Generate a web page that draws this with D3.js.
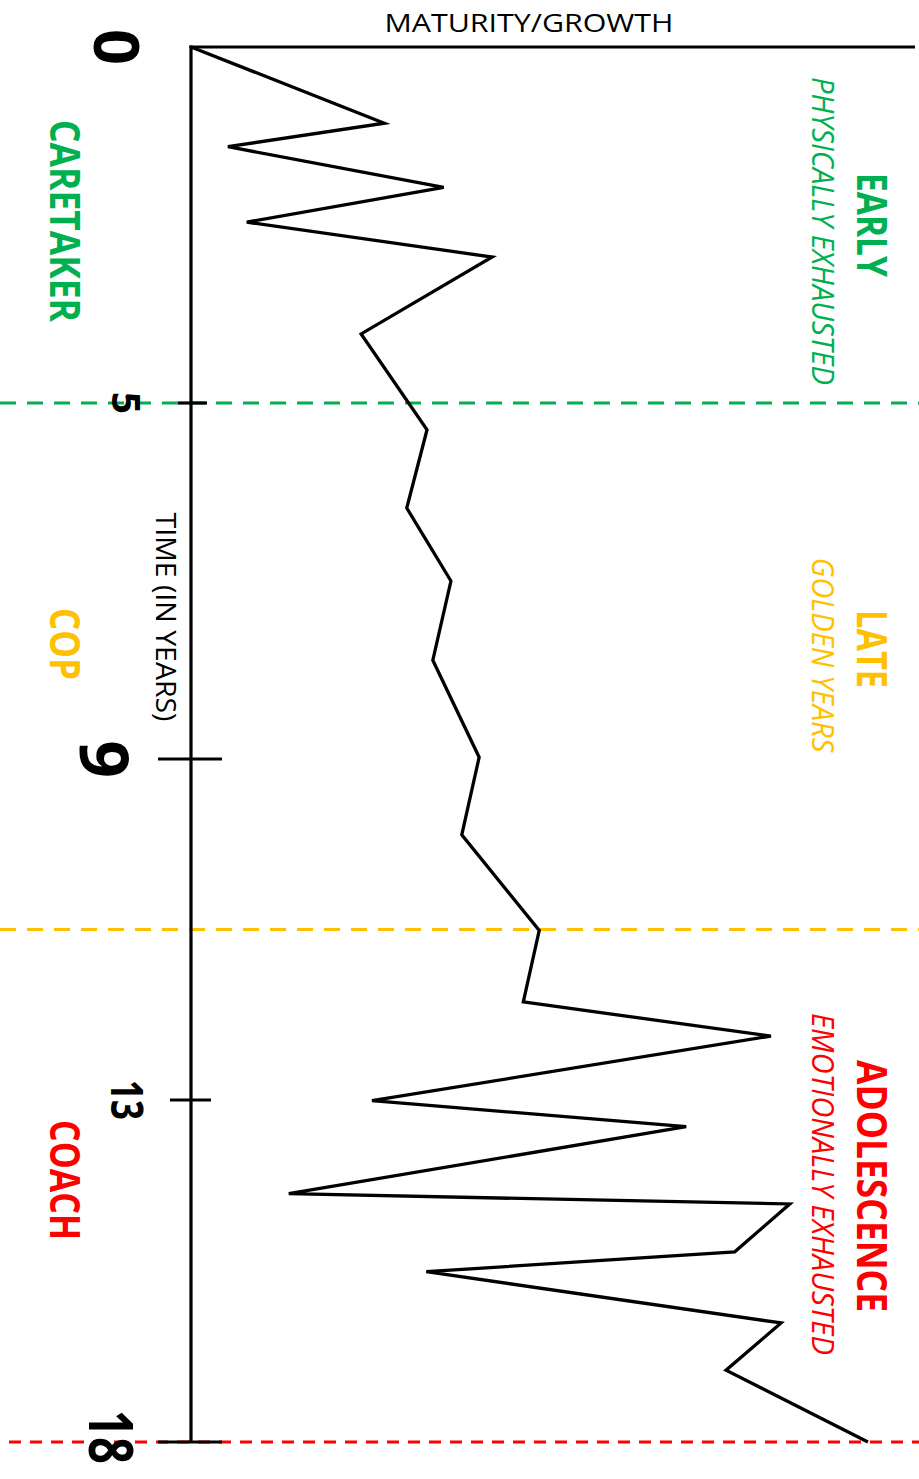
<!DOCTYPE html>
<html>
<head>
<meta charset="utf-8">
<script src="https://cdn.jsdelivr.net/npm/d3@7"></script>
<style>
  html, body { margin: 0; padding: 0; background: #ffffff; }
  svg { display: block; }
</style>
</head>
<body>
<svg id="chart" width="919" height="1479"></svg>
<script>
// ---------- DATA ----------
const years    = [0, 1.07, 1.40, 1.97, 2.46, 2.95, 4.03, 5.30, 6.18, 7.00, 7.89, 8.98, 9.89, 11.01, 11.85, 12.25, 13.01, 13.39, 14.37, 14.52, 15.22, 15.51, 16.26, 16.95, 18];
const maturity = [0, 26.7, 5.1, 34.9, 7.7, 41.6, 23.5, 32.6, 29.8, 35.9, 33.4, 39.8, 37.4, 48.1, 45.9, 80.1, 25.0, 68.4, 13.5, 82.7, 75.1, 32.5, 81.5, 73.9, 93.5];
const tickYears  = [0, 5, 9, 13, 18];
const tickLabels = ["0", "5", "9", "13", "18"];
const phaseEnds      = [5, 11, 18];
const phaseNames     = ["EARLY", "LATE", "ADOLESCENCE"];
const phaseSubtitles = ["PHYSICALLY EXHAUSTED", "GOLDEN YEARS", "EMOTIONALLY EXHAUSTED"];
const roles          = ["CARETAKER", "COP", "COACH"];
const xTitle = "MATURITY/GROWTH";
const yTitle = "TIME (IN YEARS)";

// ---------- LAYOUT / STYLE ----------
const phaseColors = ["#00B050", "#FFC000", "#FF0000"];
const dashes = ["16,11", "16,11", "12,9"];
const FONT = "'Open Sans', 'Liberation Sans', sans-serif";

const svg = d3.select("#chart");
const W = 919;

// piecewise time scale (schematic axis)
const y = d3.scaleLinear().domain(tickYears).range([47, 403, 759, 1100, 1442]);
const x = d3.scaleLinear().domain([0, 100]).range([191, 915]);

// phase boundary dashed lines
svg.append("g").selectAll("line").data(phaseEnds).join("line")
  .attr("x1", (d, i) => i === 2 ? 9 : 0).attr("x2", W)
  .attr("y1", d => y(d)).attr("y2", d => y(d))
  .attr("stroke", (d, i) => phaseColors[i])
  .attr("stroke-width", 3)
  .attr("stroke-dasharray", (d, i) => dashes[i]);

// axes
const axis = svg.append("g").attr("stroke", "#000").attr("stroke-width", 3.2);
axis.append("line").attr("x1", x(0)).attr("x2", x(0)).attr("y1", y(0) - 1.6).attr("y2", y(18));
axis.append("line").attr("x1", x(0) - 1.6).attr("x2", x(100)).attr("y1", y(0)).attr("y2", y(0));

const tickLeft  = [0, 13, 33, 21, 33];
const tickRight = [0, 16, 31, 20, 31];
axis.selectAll("line.tick").data(tickYears).join("line").attr("class", "tick")
  .attr("x1", (d, i) => x(0) - tickLeft[i]).attr("x2", (d, i) => x(0) + tickRight[i])
  .attr("y1", d => y(d)).attr("y2", d => y(d));

// tick labels (rotated)
const tickStyle = [
  { bx: 94,  size: 63, len: null, dy: 0 },
  { bx: 112, size: 39, len: null, dy: 0 },
  { bx: 80,  size: 66, len: null, dy: 0 },
  { bx: 111, size: 45, len: 40,   dy: 0 },
  { bx: 89,  size: 60, len: 54,   dy: -5 }
];
tickYears.forEach((t, i) => {
  const s = tickStyle[i];
  const txt = svg.append("text")
    .attr("transform", `translate(${s.bx},${y(t) + s.dy}) rotate(90)`)
    .attr("text-anchor", "middle")
    .attr("font-family", FONT).attr("font-weight", 700)
    .attr("font-size", s.size).attr("fill", "#000")
    .text(tickLabels[i]);
  if (s.len) txt.attr("textLength", s.len).attr("lengthAdjust", "spacingAndGlyphs");
});

// axis titles
svg.append("text")
  .attr("x", 529).attr("y", 32)
  .attr("text-anchor", "middle")
  .attr("font-family", FONT).attr("font-size", 26)
  .attr("textLength", 289).attr("lengthAdjust", "spacingAndGlyphs")
  .text(xTitle);
svg.append("text")
  .attr("transform", `translate(156,${617}) rotate(90)`)
  .attr("text-anchor", "middle")
  .attr("font-family", FONT).attr("font-size", 27)
  .attr("textLength", 209).attr("lengthAdjust", "spacingAndGlyphs")
  .text(yTitle);

// role labels (left), phase names and subtitles (right)
const roleCenters  = [221, 644, 1180];
const roleLens     = [202, 72, 120];
const nameCenters  = [225, 649, 1186];
const nameLens     = [104, 78, 252];
const subCenters   = [231, 655, 1184];
const subLens      = [308, 195, 342];

roles.forEach((r, i) => {
  svg.append("text")
    .attr("transform", `translate(50,${roleCenters[i]}) rotate(90)`)
    .attr("text-anchor", "middle")
    .attr("font-family", FONT).attr("font-weight", 700).attr("font-size", 42)
    .attr("fill", phaseColors[i])
    .attr("textLength", roleLens[i]).attr("lengthAdjust", "spacingAndGlyphs")
    .text(r);
});
phaseNames.forEach((n, i) => {
  svg.append("text")
    .attr("transform", `translate(857,${nameCenters[i]}) rotate(90)`)
    .attr("text-anchor", "middle")
    .attr("font-family", FONT).attr("font-weight", 700).attr("font-size", 42)
    .attr("fill", phaseColors[i])
    .attr("textLength", nameLens[i]).attr("lengthAdjust", "spacingAndGlyphs")
    .text(n);
});
phaseSubtitles.forEach((s, i) => {
  svg.append("text")
    .attr("transform", `translate(812,${subCenters[i]}) rotate(90)`)
    .attr("text-anchor", "middle")
    .attr("font-family", FONT).attr("font-style", "italic").attr("font-size", 31)
    .attr("fill", phaseColors[i])
    .attr("textLength", subLens[i]).attr("lengthAdjust", "spacingAndGlyphs")
    .text(s);
});

// maturity line
const pts = years.map((t, i) => ({ t, m: maturity[i] }));
svg.append("path")
  .datum(pts)
  .attr("fill", "none")
  .attr("stroke", "#000")
  .attr("stroke-width", 3.3)
  .attr("stroke-linejoin", "miter")
  .attr("d", d3.line().x(d => x(d.m)).y(d => y(d.t)));
</script>
</body>
</html>
